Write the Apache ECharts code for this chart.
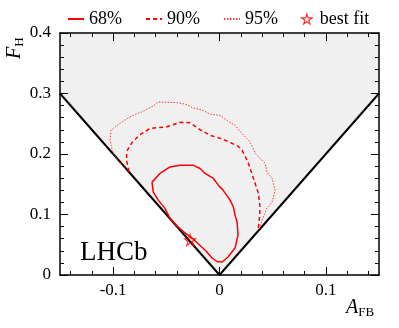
<!DOCTYPE html>
<html>
<head>
<meta charset="utf-8">
<script src="https://cdn.jsdelivr.net/npm/echarts@6/dist/echarts.min.js"></script>
<style>
  html, body { margin: 0; padding: 0; background: #fff; }
  #chart { width: 399px; height: 328px; }
</style>
</head>
<body>
<div id="chart"></div>
<script>
// contour points [A_FB, F_H]
const cl68 = [
  [-0.0635, 0.1535], [-0.0560, 0.1678], [-0.0466, 0.1787], [-0.0371, 0.1815],
  [-0.0249, 0.1815], [-0.0183, 0.1761], [-0.0136, 0.1678], [-0.0058, 0.1596],
  [-0.0011, 0.1485], [0.0033, 0.1403], [0.0099, 0.1238], [0.0130, 0.1127],
  [0.0146, 0.0990], [0.0165, 0.0875], [0.0174, 0.0660], [0.0146, 0.0446],
  [0.0080, 0.0297], [0.0024, 0.0215], [-0.0024, 0.0223], [-0.0071, 0.0281],
  [-0.0127, 0.0396], [-0.0183, 0.0487], [-0.0259, 0.0611], [-0.0334, 0.0710],
  [-0.0400, 0.0809], [-0.0466, 0.0936], [-0.0513, 0.1101], [-0.0576, 0.1238],
  [-0.0623, 0.1370], [-0.0635, 0.1535]
];
const cl90 = [
  [-0.0851, 0.1708], [-0.0875, 0.1898], [-0.0873, 0.2030], [-0.0858, 0.2091],
  [-0.0814, 0.2211], [-0.0732, 0.2338], [-0.0654, 0.2421], [-0.0588, 0.2434],
  [-0.0494, 0.2450], [-0.0371, 0.2525], [-0.0277, 0.2516], [-0.0183, 0.2401],
  [-0.0089, 0.2310], [0.0021, 0.2252], [0.0115, 0.2178], [0.0174, 0.2129],
  [0.0212, 0.2063], [0.0268, 0.1865], [0.0303, 0.1683], [0.0334, 0.1518],
  [0.0365, 0.1353], [0.0381, 0.1122], [0.0376, 0.0957], [0.0362, 0.0726]
];
const cl95 = [
  [-0.0861, 0.1733], [-0.0936, 0.1848], [-0.1002, 0.2013], [-0.1030, 0.2228],
  [-0.1020, 0.2393], [-0.0936, 0.2508], [-0.0826, 0.2629], [-0.0720, 0.2706],
  [-0.0625, 0.2789], [-0.0578, 0.2860], [-0.0494, 0.2855], [-0.0400, 0.2850],
  [-0.0315, 0.2822], [-0.0249, 0.2761], [-0.0155, 0.2723], [-0.0089, 0.2657],
  [0.0005, 0.2640], [0.0068, 0.2558], [0.0146, 0.2475], [0.0209, 0.2343],
  [0.0287, 0.2200], [0.0315, 0.2096], [0.0334, 0.2013], [0.0381, 0.1931],
  [0.0428, 0.1848], [0.0447, 0.1700], [0.0494, 0.1601], [0.0522, 0.1403],
  [0.0494, 0.1205], [0.0447, 0.1106], [0.0400, 0.0908], [0.0371, 0.0743]
];
const bestFit = [[-0.0277, 0.0578]];
// physical boundary F_H = 2|A_FB|
const boundary = [[-0.15, 0.3], [0, 0], [0.15, 0.3]];

const serif = "Liberation Serif";
const starPath = "path://M50,0 L61,35 L98,35 L68,57 L79,91 L50,70 L21,91 L32,57 L2,35 L39,35 Z";

// main frame: x -0.15..0.15 over 319 px
const gLeft = 60, gRight = 20, gTop = 33, gBottom = 53;
const pxPerUnit = 319 / 0.3;

let myChart = echarts.init(document.getElementById("chart"));

// extra grids share the same pixel scale, so ticks can start from a round min
function subGrid(lo, hi) {
  return { left: gLeft + (lo + 0.15) * pxPerUnit, right: gRight + (0.15 - hi) * pxPerUnit,
    top: gTop, bottom: gBottom, show: false };
}
function frameX(pos) {
  return { type: "value", gridIndex: 0, min: -0.15, max: 0.15, position: pos, z: 10,
    axisLine: { show: true, onZero: false, lineStyle: { color: "#000", width: 1.5 } },
    axisTick: { show: false }, axisLabel: { show: false }, splitLine: { show: false } };
}
function tickX(grid, lo, hi, step, len, pos, labels) {
  return { type: "value", gridIndex: grid, min: lo, max: hi, interval: step, position: pos, z: 10,
    axisLine: { show: false, onZero: false },
    axisTick: { show: true, inside: true, length: len, lineStyle: { color: "#000", width: 1 } },
    axisLabel: { show: labels, margin: 7, fontFamily: serif, fontSize: 17, color: "#000",
      formatter: v => (Math.abs(v) < 1e-9 ? "0" : String(Math.round(v * 10) / 10)) },
    splitLine: { show: false } };
}
function yAx(pos) {
  return {
    type: "value", gridIndex: 0, min: 0, max: 0.4, interval: 0.1, position: pos, z: 10,
    axisLine: { show: true, onZero: false, lineStyle: { color: "#000", width: 1.5 } },
    axisTick: { show: true, inside: true, length: 8, lineStyle: { color: "#000", width: 1 } },
    minorTick: { show: true, splitNumber: 5, length: 4, lineStyle: { color: "#000", width: 1 } },
    axisLabel: { show: pos === "left", margin: 9, fontFamily: serif, fontSize: 17, color: "#000",
      formatter: v => (v === 0 ? "0" : String(Math.round(v * 10) / 10)) },
    splitLine: { show: false }
  };
}
function hiddenY(grid) {
  return { type: "value", gridIndex: grid, min: 0, max: 0.4, show: false };
}

const hideSym = { opacity: 0 };
const hollowStar = { color: "rgba(0,0,0,0)", borderColor: "#ff0000", borderWidth: 1.2 };

let option = {
  animation: false,
  grid: [
    { left: gLeft, top: gTop, right: gRight, bottom: gBottom, show: true,
      backgroundColor: "#f0f0f0", borderWidth: 0 },
    subGrid(-0.14, 0.14),
    subGrid(-0.1, 0.1)
  ],
  legend: {
    left: 62, top: 5, itemWidth: 16, itemHeight: 10, itemGap: 23,
    textStyle: { fontFamily: serif, fontSize: 18, color: "#000" },
    data: [
      { name: "68%", itemStyle: hideSym },
      { name: "90%", itemStyle: hideSym },
      { name: "95%", itemStyle: hideSym },
      { name: "best fit", itemStyle: hollowStar }
    ]
  },
  xAxis: [
    frameX("bottom"), frameX("top"),
    tickX(1, -0.14, 0.14, 0.02, 4, "bottom", false), tickX(1, -0.14, 0.14, 0.02, 4, "top", false),
    tickX(2, -0.1, 0.1, 0.1, 8, "bottom", true), tickX(2, -0.1, 0.1, 0.1, 8, "top", false)
  ],
  yAxis: [yAx("left"), yAx("right"), hiddenY(1), hiddenY(2)],
  graphic: [
    { type: "text", left: 80, top: 239, z: 20,
      style: { text: "LHCb", fontFamily: serif, fontSize: 27, fill: "#000" } },
    { type: "text", x: 346, y: 319, z: 20,
      style: { text: "{i|A}{s|FB}", verticalAlign: "bottom",
        rich: { i: { fontFamily: serif, fontStyle: "italic", fontSize: 20, fill: "#000" },
                s: { fontFamily: serif, fontSize: 13, fill: "#000", padding: [9, 0, 0, 0] } } } },
    { type: "text", x: 26, y: 59, rotation: Math.PI / 2, z: 20,
      style: { text: "{i|F}{s|H}", verticalAlign: "bottom",
        rich: { i: { fontFamily: serif, fontStyle: "italic", fontSize: 20, fill: "#000" },
                s: { fontFamily: serif, fontSize: 13, fill: "#000", padding: [9, 0, 0, 0] } } } }
  ],
  series: [
    { type: "line", data: boundary, symbol: "none", z: 3,
      lineStyle: { color: "#000", width: 2 }, areaStyle: { color: "#fff", opacity: 1 } },
    { name: "95%", type: "line", data: cl95, symbol: "none", z: 4,
      lineStyle: { color: "#ff3a3a", width: 1, type: [1.5, 1.5] }, itemStyle: { color: "#ff3a3a" } },
    { name: "90%", type: "line", data: cl90, symbol: "none", z: 4,
      lineStyle: { color: "#ff0000", width: 1.5, type: [4, 3] }, itemStyle: { color: "#ff0000" } },
    { name: "68%", type: "line", data: cl68, symbol: "none", z: 4,
      lineStyle: { color: "#ff0000", width: 1.5 }, itemStyle: { color: "#ff0000" } },
    { name: "best fit", type: "scatter", data: bestFit, symbol: starPath, symbolSize: 11, z: 5,
      itemStyle: hollowStar }
  ]
};

myChart.setOption(option);
</script>
</body>
</html>
